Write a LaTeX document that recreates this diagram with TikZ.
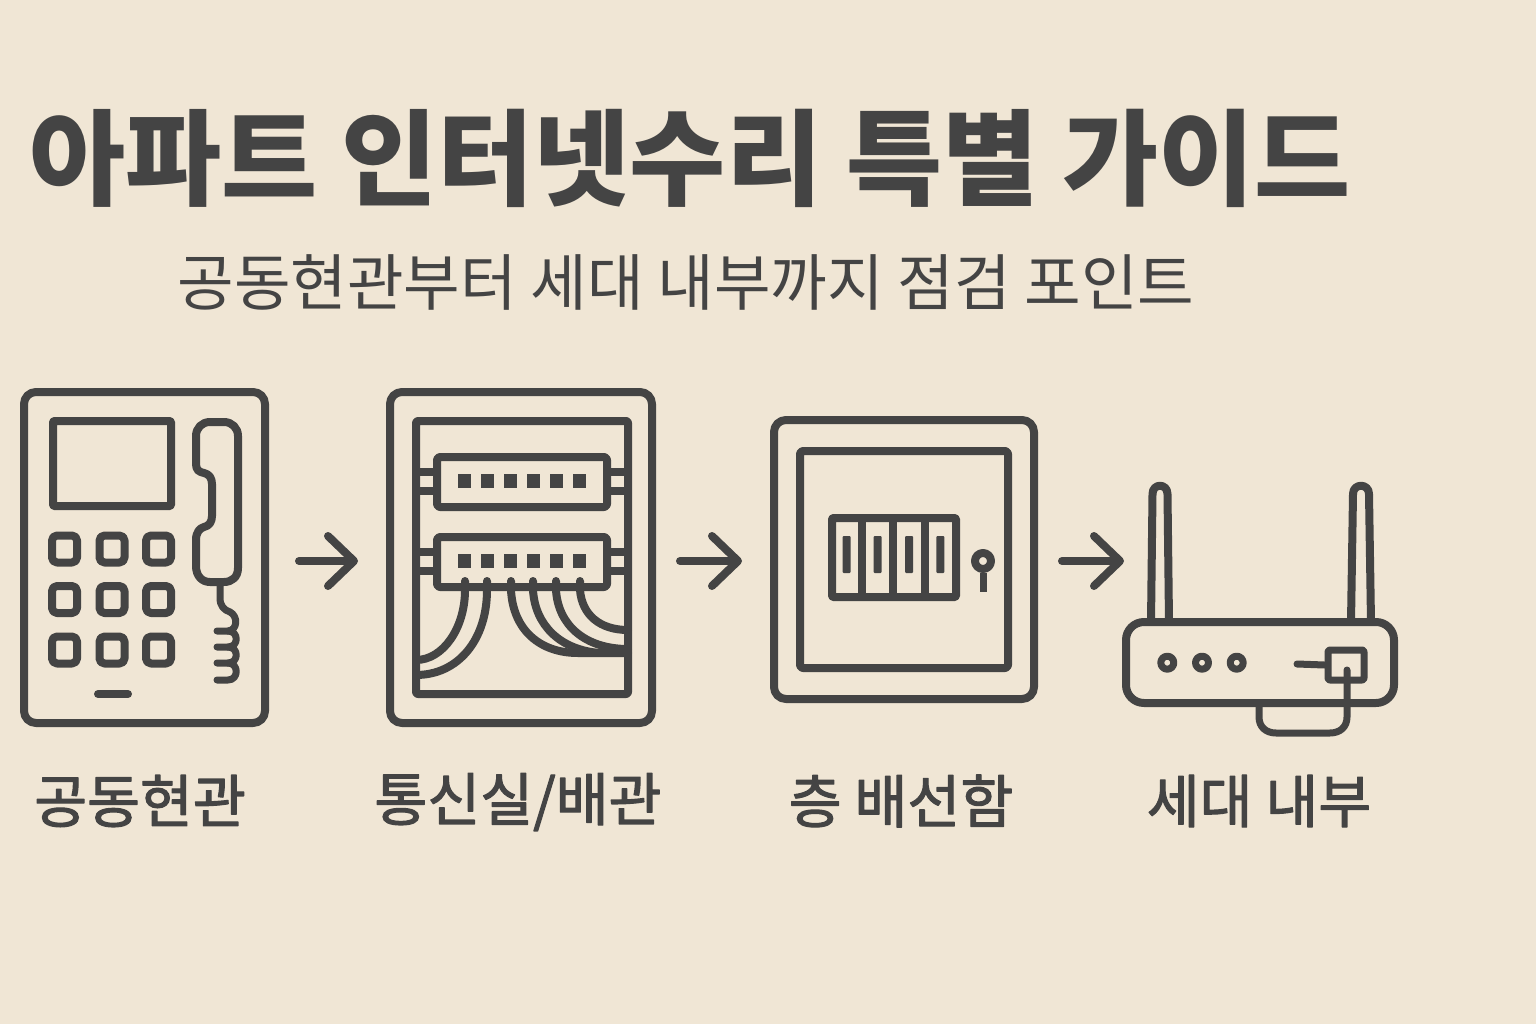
\documentclass[tikz,border=0pt]{standalone}
\usepackage{fontspec}
\usepackage{tikz}
\usetikzlibrary{arrows.meta}
\newfontfamily\cjk{Noto Sans CJK KR}
\newfontfamily\cjkmid[FakeBold=2]{Noto Sans CJK KR}
\definecolor{paper}{HTML}{F0E6D5}
\definecolor{ink}{HTML}{444444}

\begin{document}
\begin{tikzpicture}[x=1pt, y=-1pt, line join=round,
    panel/.style = {draw=ink, line width=8pt, rounded corners=12pt, inner sep=0pt},
    frame/.style = {draw=ink, line width=8pt, rounded corners=3pt, inner sep=0pt},
    key/.style = {draw=ink, line width=8pt, rounded corners=5pt, inner sep=0pt, minimum width=25pt, minimum height=27pt},
    port/.style = {fill=ink, inner sep=0pt, minimum width=13pt, minimum height=14pt},
    ring/.style = {draw=ink, circle, inner sep=0pt},
    wire/.style = {draw=ink, line width=8pt, line cap=round},
    flow/.style = {draw=ink, line width=8pt, line cap=round, -{Straight Barb[length=26pt,width=50pt,round]}},
    heading/.style = {text=ink, inner sep=0pt},
    caption/.style = {text=ink, inner sep=0pt, font=\cjkmid\fontsize{57.5}{57.5}\selectfont}]
  \fill[paper] (0,0) rectangle (1536,1024);
  \useasboundingbox (0,0) rectangle (1536,1024);

  \node[heading, font=\cjk\bfseries\fontsize{104.5}{104.5}\selectfont] (title) at (690,158) {아파트 인터넷수리 특별 가이드};
  \node[heading, font=\cjk\fontsize{61.5}{61.5}\selectfont] (subtitle) at (686,282) {공동현관부터 세대 내부까지 점검 포인트};

  % door phone
  \node[panel, minimum width=241pt, minimum height=331pt] (phone) at (144.5,557.5) {};
  \node[frame, rounded corners=1pt, minimum width=118pt, minimum height=85pt] (screen) at (112,463.5) {};
  \foreach \row/\ky in {1/549, 2/599.5, 3/650}
    \foreach \col/\kx in {1/64.5, 2/112, 3/158.5}
      \node[key] (key\row\col) at (\kx,\ky) {};
  \draw[wire] (98,694) -- (128,694);
  \draw[wire] (210,422) -- (224,422) .. controls (232,422) and (238,428) .. (238,436)
    -- (238,568) .. controls (238,577) and (232,582) .. (224,582)
    -- (210,582) .. controls (202,582) and (196,576) .. (196,566)
    -- (196,540) .. controls (196,532) and (200,528) .. (204,527)
    .. controls (209,526) and (212,522) .. (212,516)
    -- (212,484) .. controls (212,478) and (209,474) .. (204,473)
    .. controls (199,472) and (196,470) .. (196,464)
    -- (196,436) .. controls (196,428) and (202,422) .. (210,422) -- cycle;
  \draw[wire, line width=7pt] (220,586) -- (220,598) .. controls (220,606) and (224,610) .. (230,612)
    .. controls (238,616) and (238,630) .. (228,631) -- (217,631);
  \foreach \ya/\yb in {631/647, 647/663, 663/680}
    \draw[wire, line width=7pt] (217,\yb) -- (228,\yb) .. controls (239,\yb) and (239,\ya) .. (228,\ya);

  % patch rack
  \node[panel, minimum width=262pt, minimum height=331pt] (rack) at (521,557.5) {};
  \node[frame, rounded corners=2pt, minimum width=212pt, minimum height=273pt] (cabinet) at (522,557.5) {};
  \node[frame, minimum width=170pt, minimum height=50pt] (patcha) at (522,482) {};
  \node[frame, minimum width=170pt, minimum height=50pt] (patchb) at (522,562) {};
  \foreach \ey in {472, 491, 552, 571} {
    \draw[wire, line cap=butt] (416,\ey) -- (437,\ey);
    \draw[wire, line cap=butt] (607,\ey) -- (628,\ey);
  }
  \foreach \n/\px in {1/464.3, 2/487.3, 3/510.3, 4/533.3, 5/556.7, 6/579.7} {
    \node[port] (porta\n) at (\px,480.7) {};
    \node[port] (portb\n) at (\px,560.7) {};
  }
  \draw[wire] (465,581) -- (465,590) .. controls (465,628) and (443,660) .. (416,660);
  \draw[wire] (487,581) -- (487,590) .. controls (487,640) and (458,675) .. (416,675);
  \draw[wire] (511,581) -- (511,590) .. controls (513,630) and (540,653) .. (578,653) -- (628,653);
  \draw[wire] (533,581) -- (533,590) .. controls (535,625) and (560,650) .. (600,653);
  \draw[wire] (556,581) -- (556,590) .. controls (558,625) and (585,649) .. (628,649);
  \draw[wire] (580,581) -- (580,590) .. controls (582,615) and (600,630) .. (628,630);

  % floor box
  \node[panel, minimum width=260pt, minimum height=279pt] (box) at (904,559.5) {};
  \node[frame, minimum width=208pt, minimum height=217pt] (door) at (904,559.5) {};
  \node[frame, rounded corners=1pt, minimum width=124pt, minimum height=79pt] (breaker) at (894,557.5) {};
  \foreach \dx in {862, 893, 925}
    \draw[wire, line cap=butt] (\dx,518) -- (\dx,597);
  \foreach \n/\sx in {1/846.7, 2/877.7, 3/909, 4/940.3}
    \node[fill=ink, rounded corners=1pt, inner sep=0pt, minimum width=8pt, minimum height=37pt] (lever\n) at (\sx,554.5) {};
  \node[ring, line width=8pt, minimum size=16pt] (lock) at (983,561) {};
  \draw[wire, line cap=butt, line width=7pt] (lock.south) -- (983,592);

  % router
  \draw[wire, line cap=butt] (1151,622) -- (1152.5,494) .. controls (1152.5,483) and (1167.5,483) .. (1167.5,494) -- (1169,622);
  \draw[wire, line cap=butt] (1351,622) -- (1353,494) .. controls (1353,483) and (1369,483) .. (1369,494) -- (1371,622);
  \node[panel, rounded corners=18pt, minimum width=268pt, minimum height=81pt] (router) at (1260,662.5) {};
  \foreach \n/\lx in {1/1167.3, 2/1202, 3/1236.7}
    \node[ring, line width=7pt, minimum size=13pt] (led\n) at (\lx,662.7) {};
  \node[frame, rounded corners=2pt, line width=7pt, minimum width=36pt, minimum height=30pt] (socket) at (1346,665) {};
  \draw[wire, line width=7pt] (1297,664) -- (socket.west);
  \draw[wire, line width=7pt] (1347,670) -- (1347,717) .. controls (1347,727) and (1340,733) .. (1330,733)
    -- (1276,733) .. controls (1266,733) and (1259,727) .. (1259,717) -- (1259,703);

  \coordinate (boxport) at ([yshift=-1.5pt]box.east);
  \draw[flow, shorten <=30pt, shorten >=28pt] ([yshift=-3.5pt]phone.east) -- ([yshift=-3.5pt]rack.west);
  \draw[flow, shorten <=24pt, shorten >=28pt] ([yshift=-3.5pt]rack.east) -- ([yshift=-1.5pt]box.west);
  \draw[flow, shorten <=24pt, shorten >=-2pt] (boxport) -- (boxport -| router.west);

  \node[caption] (labela) at (140,801) {공동현관};
  \node[caption] (labelb) at (518,802) {통신실/배관};
  \node[caption] (labelc) at (901,801) {층 배선함};
  \node[caption] (labeld) at (1259,801) {세대 내부};
\end{tikzpicture}
\end{document}
